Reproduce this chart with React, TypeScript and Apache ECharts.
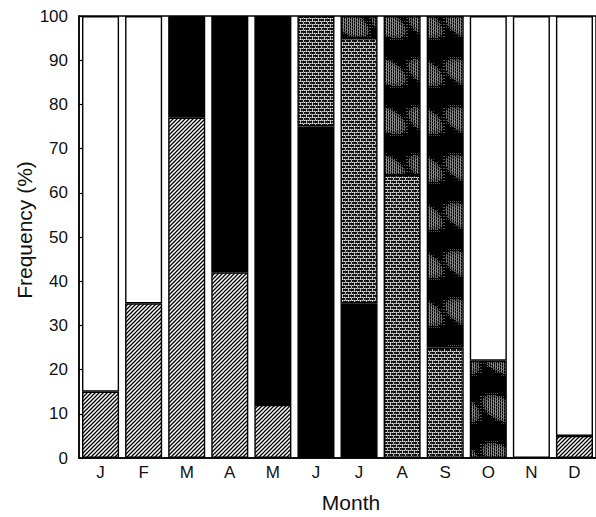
import React, { useEffect, useRef } from "react";
import * as echarts from "echarts";

const months = ["J", "F", "M", "A", "M", "J", "J", "A", "S", "O", "N", "D"];
const hatchedVals = [15, 35, 77, 42, 12, 0, 0, 0, 0, 0, 0, 5];
const blackVals = [0, 0, 23, 58, 88, 75, 35, 0, 0, 0, 0, 0];
const brickVals = [0, 0, 0, 0, 0, 25, 60, 64, 25, 0, 0, 0];
const mottledVals = [0, 0, 0, 0, 0, 0, 5, 36, 75, 22, 0, 0];
const whiteVals = [85, 65, 0, 0, 0, 0, 0, 0, 0, 78, 100, 95];
const yTicks = [0, 10, 20, 30, 40, 50, 60, 70, 80, 90, 100];

function makeCanvas(w: number, h: number, draw: (ctx: CanvasRenderingContext2D) => void) {
  const c = document.createElement("canvas");
  c.width = w;
  c.height = h;
  const ctx = c.getContext("2d")!;
  draw(ctx);
  return c;
}

function hatchPattern() {
  const p = 4;
  const c = makeCanvas(p, p, (ctx) => {
    ctx.fillStyle = "#fff";
    ctx.fillRect(0, 0, p, p);
    ctx.strokeStyle = "#000";
    ctx.lineWidth = 1.3;
    ctx.beginPath();
    ctx.moveTo(-1, p + 1);
    ctx.lineTo(p + 1, -1);
    ctx.moveTo(-1, 1);
    ctx.lineTo(1, -1);
    ctx.moveTo(p - 1, p + 1);
    ctx.lineTo(p + 1, p - 1);
    ctx.stroke();
  });
  return { image: c, repeat: "repeat", imageWidth: p, imageHeight: p };
}

function brickPattern() {
  const w = 6, h = 6;
  const c = makeCanvas(w, h, (ctx) => {
    ctx.fillStyle = "#111";
    ctx.fillRect(0, 0, w, h);
    for (let x = 0; x < w; x++) {
      ctx.fillStyle = x % 2 === 0 ? "#e6e6e6" : "#888";
      ctx.fillRect(x, 0, 1, 1);
      ctx.fillRect(x, 3, 1, 1);
    }
    ctx.fillStyle = "#bbb";
    ctx.fillRect(0, 1, 1, 2);
    ctx.fillRect(3, 4, 1, 2);
    ctx.fillStyle = "#444";
    ctx.fillRect(2, 2, 1, 1);
    ctx.fillRect(5, 5, 1, 1);
  });
  return { image: c, repeat: "repeat", imageWidth: w, imageHeight: h };
}

function mottledPattern() {
  const w = 37, h = 48;
  const c = makeCanvas(w, h, (ctx) => {
    ctx.fillStyle = "#000";
    ctx.fillRect(0, 0, w, h);
    const ang = 0.55;
    const ca = Math.cos(ang), sa = Math.sin(ang);
    for (let y = 0; y < h; y++) {
      for (let x = 0; x < w; x++) {
        let d = 99;
        for (const [cx, cy] of [[18, 24], [18 - w, 24], [18 + w, 24], [18, 24 - h], [18, 24 + h], [18 - w, 24 - h], [18 + w, 24 + h], [18 - w, 24 + h], [18 + w, 24 - h]]) {
          const dx = x - cx, dy = y - cy;
          const u = dx * ca + dy * sa;
          const v = -dx * sa + dy * ca;
          d = Math.min(d, (u * u) / (19 * 19) + (v * v) / (11 * 11));
        }
        if (d < 1) {
          if (x % 2 === 0) {
            ctx.fillStyle = d < 0.6 ? "#8c8c8c" : "#666";
            ctx.fillRect(x, y, 1, 1);
          } else if ((x + y) % 3 === 0) {
            ctx.fillStyle = "#444";
            ctx.fillRect(x, y, 1, 1);
          }
        } else if (d < 1.4 && x % 2 === 0 && (y % 3 === 0)) {
          ctx.fillStyle = "#555";
          ctx.fillRect(x, y, 1, 1);
        }
      }
    }
  });
  return { image: c, repeat: "repeat", imageWidth: w, imageHeight: h };
}

export default function App() {
  const ref = useRef<HTMLDivElement>(null);

  useEffect(() => {
    if (!ref.current) return;
    const chart = echarts.init(ref.current, null, { renderer: "svg" });
    const font = "'Liberation Sans', Arial, Helvetica, sans-serif";
    const toData = (arr: number[]) => arr.map((v) => (v === 0 ? "-" : v));
    const mk = (name: string, vals: number[], color: any) => ({
      name,
      type: "bar",
      stack: "total",
      data: toData(vals),
      barCategoryGap: "14%",
      itemStyle: { color, borderColor: "#000", borderWidth: 1.4 },
      emphasis: { disabled: true },
    });

    chart.setOption({
      animation: false,
      grid: {
        left: 79,
        right: 0,
        top: 16,
        bottom: 59,
        show: true,
        borderColor: "#000",
        borderWidth: 1.4,
        backgroundColor: "transparent",
      },
      xAxis: {
        type: "category",
        data: months,
        axisLine: { lineStyle: { color: "#000", width: 1.5 } },
        axisTick: { inside: true, length: 5, lineStyle: { color: "#000", width: 1.2 } },
        axisLabel: { color: "#111", fontSize: 17, fontFamily: font, margin: 6 },
      },
      yAxis: {
        type: "value",
        min: yTicks[0],
        max: yTicks[yTicks.length - 1],
        interval: 10,
        splitLine: { show: false },
        axisLine: { show: true, lineStyle: { color: "#000", width: 1.5 } },
        axisTick: { show: true, inside: true, length: 4, lineStyle: { color: "#000", width: 1.2 } },
        axisLabel: { color: "#111", fontSize: 17, fontFamily: font, margin: 11 },
      },
      graphic: [
        {
          type: "text",
          x: 24,
          y: 230,
          rotation: Math.PI / 2,
          style: {
            text: "Frequency (%)",
            fontSize: 21,
            fontFamily: font,
            fill: "#111",
            textAlign: "center",
            textVerticalAlign: "middle",
          },
        },
        {
          type: "text",
          x: 351,
          y: 502,
          style: {
            text: "Month",
            fontSize: 21,
            fontFamily: font,
            fill: "#111",
            textAlign: "center",
            textVerticalAlign: "middle",
          },
        },
      ],
      series: [
        mk("Hatched", hatchedVals, hatchPattern()),
        mk("Black", blackVals, "#000"),
        mk("Brick", brickVals, brickPattern()),
        mk("Mottled", mottledVals, mottledPattern()),
        mk("White", whiteVals, "#fff"),
      ],
    });
    return () => chart.dispose();
  }, []);

  return (
    <div
      ref={ref}
      style={{ position: "absolute", left: 0, top: 0, width: 596, height: 517, background: "#fff" }}
    />
  );
}
